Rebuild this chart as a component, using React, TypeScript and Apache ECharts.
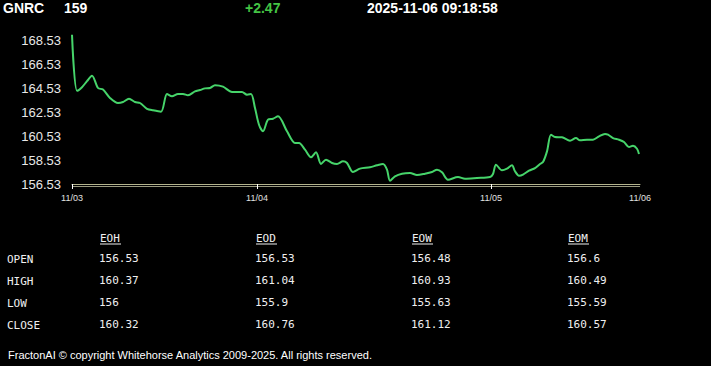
import React, { useEffect, useRef } from "react";
import * as echarts from "echarts";

const symbol = "GNRC";
const lastPrice = "159";
const change = "+2.47";
const timestamp = "2025-11-06 09:18:58";

// bar index since 11/03 open, price
const barIndex = [
  0, 5, 10, 15, 20, 26, 31, 38, 46, 51, 57, 63, 68, 75, 81, 89, 95, 100, 106, 111,
  116, 123, 128, 133, 138, 143, 151, 160, 170, 175, 179, 183, 187, 191, 196, 201, 206,
  215, 223, 227, 233, 239, 244, 249, 254, 260, 265, 271, 275, 281, 288, 298, 305, 311,
  315, 318, 323, 330, 338, 345, 353, 360, 365, 370, 376, 386, 393, 405, 418, 421, 424,
  430, 435, 440, 443, 447, 451, 457, 463, 468, 471, 475, 479, 483, 490, 498, 504, 508,
  515, 521, 527, 533, 536, 541, 547, 552, 557, 561, 565, 567,
];
const prices = [
  168.97, 164.3, 164.6, 165.1, 165.55, 164.53, 164.4, 163.7, 163.28, 163.36, 163.64,
  163.36, 163.28, 162.8, 162.67, 162.56, 164.03, 163.84, 164.03, 164.03, 163.92, 164.25,
  164.36, 164.5, 164.53, 164.76, 164.64, 164.2, 164.2, 163.97, 164.03, 162.86, 161.47,
  160.92, 161.89, 161.97, 162.17, 160.92, 159.95, 159.95, 159.39, 158.75, 159.17, 158.2,
  158.56, 158.28, 158.2, 158.42, 158.28, 157.53, 157.81, 157.92, 158.09, 158.2, 157.72,
  156.81, 157.17, 157.39, 157.45, 157.28, 157.39, 157.53, 157.72, 157.5, 156.89, 157.11,
  156.97, 157.03, 157.11, 157.36, 158.14, 157.67, 157.81, 158.09, 157.59, 157.22, 157.31,
  157.64, 157.86, 158.2, 158.36, 159.25, 160.64, 160.45, 160.42, 160.14, 160.36, 160.17,
  160.22, 160.22, 160.5, 160.7, 160.64, 160.36, 160.22, 160.03, 159.61, 159.72, 159.47,
  159.03,
];

const dayTickIndex = [0, 185, 419, 568];
const dayTickLabels = ["11/03", "11/04", "11/05", "11/06"];
const yTickValues = [156.53, 158.53, 160.53, 162.53, 164.53, 166.53, 168.53];

const tableColumns = ["EOH", "EOD", "EOW", "EOM"];
const tableRows = ["OPEN", "HIGH", "LOW", "CLOSE"];
const eohValues = ["156.53", "160.37", "156", "160.32"];
const eodValues = ["156.53", "161.04", "155.9", "160.76"];
const eowValues = ["156.48", "160.93", "155.63", "161.12"];
const eomValues = ["156.6", "160.49", "155.59", "160.57"];
const footerText =
  "FractonAI © copyright Whitehorse Analytics 2009-2025. All rights reserved.";

export default function App() {
  const ref = useRef<HTMLDivElement>(null);
  useEffect(() => {
    if (!ref.current) return;
    const chart = echarts.init(ref.current, undefined, { renderer: "svg" });
    const lineData = barIndex.map((x, i) => [x, prices[i]]);
    const colValues = [eohValues, eodValues, eowValues, eomValues];
    const colX = [99, 255, 411, 567];
    const rowY = [258, 280, 302, 324];
    const mono = "'DejaVu Sans Mono', 'Liberation Mono', monospace";
    const sans = "'Liberation Sans', Arial, sans-serif";
    const graphics: any[] = [];
    const titleStyle = { fontFamily: sans, fontSize: 14, fontWeight: "bold", fill: "#ffffff", textVerticalAlign: "middle" };
    graphics.push({ type: "text", left: 3, top: 1, style: { ...titleStyle, text: symbol } });
    graphics.push({ type: "text", left: 64, top: 1, style: { ...titleStyle, text: lastPrice } });
    graphics.push({ type: "text", left: 245, top: 1, style: { ...titleStyle, text: change, fill: "#44c444" } });
    graphics.push({ type: "text", left: 367, top: 1, style: { ...titleStyle, text: timestamp } });
    tableColumns.forEach((c, ci) => {
      graphics.push({
        type: "text", x: colX[ci] + 1, y: 238,
        style: { text: c, fontFamily: mono, fontSize: 11, fill: "#f0f0f0", verticalAlign: "middle" },
      });
      graphics.push({
        type: "line",
        shape: { x1: colX[ci] + 1, y1: 244, x2: colX[ci] + 22, y2: 244 },
        style: { stroke: "#f0f0f0", lineWidth: 1 },
      });
      colValues[ci].forEach((v, ri) => {
        graphics.push({
          type: "text", x: colX[ci], y: rowY[ri],
          style: { text: v, fontFamily: mono, fontSize: 11, fill: "#f0f0f0", verticalAlign: "middle" },
        });
      });
    });
    tableRows.forEach((r, ri) => {
      graphics.push({
        type: "text", x: 7, y: rowY[ri] + 1.5,
        style: { text: r, fontFamily: mono, fontSize: 11, fill: "#f0f0f0", verticalAlign: "middle" },
      });
    });
    graphics.push({
      type: "text", x: 8, y: 355,
      style: { text: footerText, fontFamily: sans, fontSize: 11, fill: "#ffffff", verticalAlign: "middle" },
    });
    graphics.push({
      type: "line",
      shape: { x1: 72, y1: 186.5, x2: 640, y2: 186.5 },
      style: { stroke: "#9a9a80", lineWidth: 1 },
    });

    chart.setOption({
      animation: false,
      backgroundColor: "#000000",
      grid: { left: 72, right: 71, top: 34, bottom: 182, containLabel: false },
      xAxis: {
        type: "value",
        min: 0,
        max: 568,
        splitLine: { show: false },
        axisLine: { show: true, lineStyle: { color: "#b4b48e", width: 1 } },
        axisTick: {
          show: true,
          customValues: dayTickIndex.slice(0, 3),
          length: 5,
          lineStyle: { color: "#ffffff" },
        },
        axisLabel: {
          customValues: dayTickIndex,
          formatter: (v: number) => dayTickLabels[dayTickIndex.indexOf(Math.round(v))] ?? "",
          color: "#e0e0e0",
          fontSize: 9,
          fontFamily: sans,
          margin: 9,
        },
      },
      yAxis: {
        type: "value",
        min: 156.53,
        max: 169.03,
        splitLine: { show: false },
        axisLine: { show: false },
        axisTick: { show: false },
        axisLabel: {
          customValues: yTickValues,
          formatter: (v: number) => v.toFixed(2),
          color: "#e8e8e8",
          fontSize: 13,
          fontFamily: sans,
          margin: 11,
        },
      },
      series: [
        {
          type: "line",
          data: lineData,
          showSymbol: false,
          smooth: 0.3,
          lineStyle: { color: "#46d46a", width: 2 },
        },
      ],
      graphic: graphics,
    });
    return () => chart.dispose();
  }, []);
  return (
    <div
      ref={ref}
      style={{ position: "fixed", left: 0, top: 0, width: 711, height: 366, background: "#000" }}
    />
  );
}
